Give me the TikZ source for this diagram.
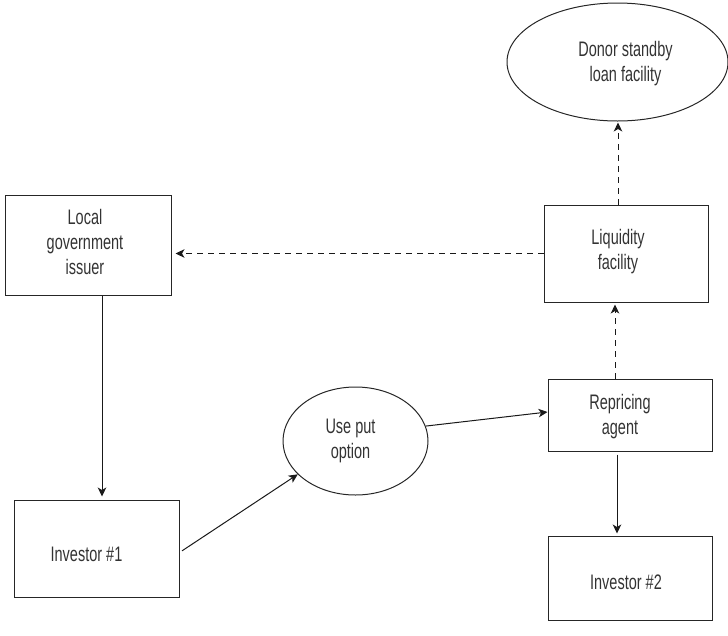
\documentclass[tikz,border=0pt]{standalone}
\usepackage{fontspec}
\setmainfont{Liberation Sans}[FakeStretch=0.69]
\usetikzlibrary{arrows.meta,shapes.geometric}

\tikzset{
  txt/.style={font=\fontsize{21}{25}\selectfont, text=black!80, align=center},
  box/.style={draw=black!85, line width=1pt, inner sep=0pt},
  oval/.style={ellipse, draw=black!85, line width=1pt, inner sep=0pt},
  % caption set inside a shape, nudged by (dx,dy)
  caption/.style n args={3}{label={[txt, shift={(#1,#2)}]center:#3}},
  flow/.style={draw=black!90, line width=1pt,
    -{Stealth[length=9pt,width=8.5pt,inset=2.5pt]}},
  link/.style={flow, dash pattern=on 5.5pt off 5.5pt},
}

\begin{document}
\begin{tikzpicture}[x=1pt,y=-1pt]
  \useasboundingbox (0,0) rectangle (728,635);

  % parties and facilities
  \node[box, minimum width=166pt, minimum height=100pt,
        caption={-3}{-3}{Local\\government\\issuer}] (loc) at (88,245) {};
  \node[box, minimum width=164pt, minimum height=97pt,
        caption={-8}{-2}{Liquidity\\facility}] (liq) at (626,253.5) {};
  \node[oval, minimum width=221pt, minimum height=118pt,
        caption={8}{2}{Donor standby\\loan facility}] (donor) at (617.5,62) {};
  \node[box, minimum width=164pt, minimum height=72pt,
        caption={-10}{2}{Repricing\\agent}] (rep) at (630,415) {};
  \node[box, minimum width=164pt, minimum height=84pt,
        caption={-4}{4}{Investor \#2}] (inv2) at (630,578) {};
  \node[box, minimum width=165pt, minimum height=97pt,
        caption={-10}{6}{Investor \#1}] (inv1) at (96.5,548.5) {};
  \node[oval, minimum width=145pt, minimum height=108pt,
        caption={-5}{0}{Use put\\option}] (put) at (355.5,441) {};

  % vertical guide lines for the connectors
  \coordinate (up)   at (618,0);
  \coordinate (back) at (615,0);
  \coordinate (down) at (102,0);
  \coordinate (mid)  at (617,0);

  % standby liquidity (dashed)
  \draw[link, shorten >=1pt] (up |- liq.north) -- (up |- donor.south);
  \draw[link, shorten >=4pt] (liq.west) -- (loc.east |- liq.west);
  \draw[link, shorten >=2pt] (back |- rep.north) -- (back |- liq.south);

  % flow of the bond (solid)
  \draw[flow, shorten >=3pt] (down |- loc.south) -- (down |- inv1.north);
  \draw[flow, shorten <=3pt] ([yshift=-4pt]inv1.east) -- (put.210);
  \draw[flow] (put.12) -- ([yshift=3pt]rep.west);
  \draw[flow, shorten <=3pt, shorten >=2pt] (mid |- rep.south) -- (mid |- inv2.north);
\end{tikzpicture}
\end{document}
